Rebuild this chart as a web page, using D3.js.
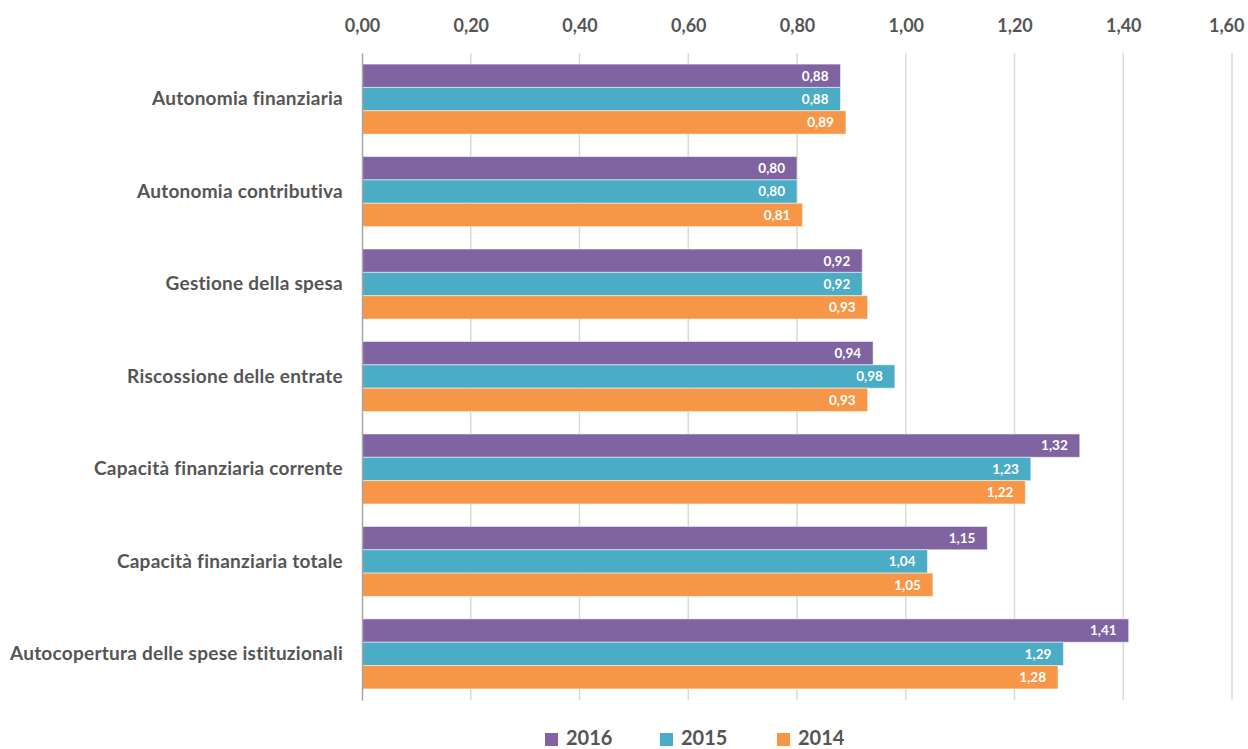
<!DOCTYPE html>
<html>
<head>
<meta charset="utf-8">
<script src="https://cdn.jsdelivr.net/npm/d3@7"></script>
<style>
  html, body { margin: 0; padding: 0; background: #fff; }
  svg text { font-family: Lato, "Open Sans", sans-serif; font-weight: 700; }
</style>
</head>
<body>
<svg id="chart" width="1248" height="749"></svg>
<script>
// Indicatori finanziari per anno
const categories = [
  "Autonomia finanziaria",
  "Autonomia contributiva",
  "Gestione della spesa",
  "Riscossione delle entrate",
  "Capacità finanziaria corrente",
  "Capacità finanziaria totale",
  "Autocopertura delle spese istituzionali"
];
const years = ["2016", "2015", "2014"];
const values2016 = [0.88, 0.80, 0.92, 0.94, 1.32, 1.15, 1.41];
const values2015 = [0.88, 0.80, 0.92, 0.98, 1.23, 1.04, 1.29];
const values2014 = [0.89, 0.81, 0.93, 0.93, 1.22, 1.05, 1.28];
const tickValues = [0, 0.2, 0.4, 0.6, 0.8, 1.0, 1.2, 1.4, 1.6];
const colors = ["#8064A2", "#4BACC6", "#F79646"];

const seriesValues = [values2016, values2015, values2014];
const fmt = v => v.toFixed(2).replace(".", ",");
const textColor = "#555555";

const svg = d3.select("#chart");
const margin = { left: 362, right: 16, top: 53, bottom: 49 };
const W = 1248, H = 749;

const x = d3.scaleLinear().domain([0, 1.6]).range([margin.left, W - margin.right]);
const y = d3.scaleBand().domain(categories).range([margin.top, H - margin.bottom]).paddingInner(0.243).paddingOuter(0.12);
const ySub = d3.scaleBand().domain(years).range([0, y.bandwidth()]);

// vertical gridlines
svg.append("g")
  .selectAll("line")
  .data(tickValues.slice(1))
  .join("line")
  .attr("x1", d => x(d)).attr("x2", d => x(d))
  .attr("y1", margin.top).attr("y2", H - margin.bottom)
  .attr("stroke", "#d9d9d9").attr("stroke-width", 1.5);

// top axis labels
const xAxis = d3.axisTop(x).tickValues(tickValues).tickFormat(fmt).tickSize(0).tickPadding(0);
const gx = svg.append("g").attr("transform", "translate(0,32)").call(xAxis);
gx.select(".domain").remove();
gx.selectAll("text").attr("fill", textColor).attr("dy", 0).style("font-size", "18px");
// keep the last label inside the right edge
gx.selectAll(".tick").filter(d => d === tickValues[tickValues.length - 1])
  .select("text")
  .attr("text-anchor", "end")
  .attr("x", (W - 4) - x(tickValues[tickValues.length - 1]));

// bars
const groups = svg.append("g").selectAll("g")
  .data(categories)
  .join("g")
  .attr("transform", d => `translate(0,${y(d)})`);

years.forEach((yr, si) => {
  groups.append("rect")
    .attr("x", x(0))
    .attr("y", ySub(yr))
    .attr("width", (d, i) => x(seriesValues[si][i]) - x(0))
    .attr("height", ySub.bandwidth())
    .attr("fill", colors[si])
    .attr("stroke", "rgba(255,255,255,0.5)")
    .attr("stroke-width", 1);
  groups.append("text")
    .attr("x", (d, i) => x(seriesValues[si][i]) - 12)
    .attr("y", ySub(yr) + ySub.bandwidth() / 2)
    .attr("dy", "0.36em")
    .attr("text-anchor", "end")
    .attr("fill", "#fff")
    .style("font-size", "13.5px")
    .text((d, i) => fmt(seriesValues[si][i]));
});

// category axis
const yAxis = d3.axisLeft(y).tickSize(0).tickPadding(19);
const gy = svg.append("g").attr("transform", `translate(${margin.left},0)`).call(yAxis);
gy.select(".domain").attr("stroke", "#a6a6a6").attr("stroke-width", 1.5);
gy.selectAll("text").attr("fill", textColor).style("font-size", "19px").style("letter-spacing", "0.25px");

// legend
const legendX = [545, 660, 777];
const legend = svg.append("g").selectAll("g")
  .data(years)
  .join("g")
  .attr("transform", (d, i) => `translate(${legendX[i]},745)`);
legend.append("rect")
  .attr("x", 0).attr("y", -12).attr("width", 13).attr("height", 13)
  .attr("fill", (d, i) => colors[i]);
legend.append("text")
  .attr("x", 21)
  .attr("fill", textColor)
  .style("font-size", "20px")
  .text(d => d);
</script>
</body>
</html>
